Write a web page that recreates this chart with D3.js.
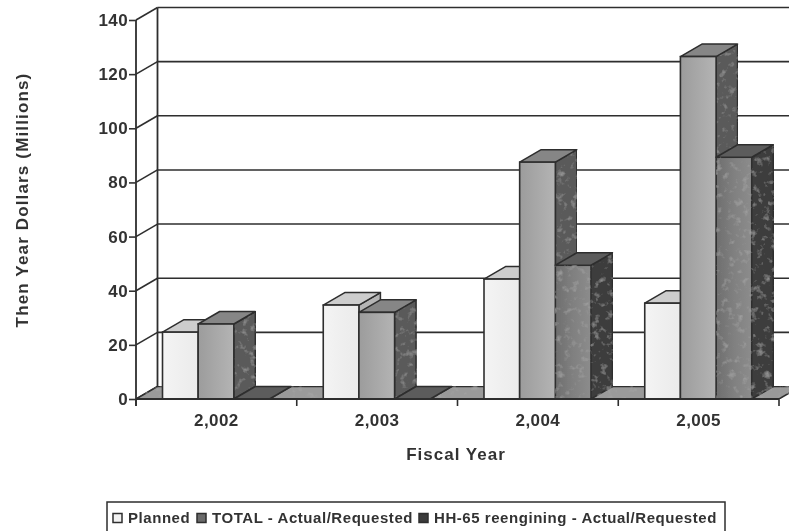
<!DOCTYPE html>
<html>
<head>
<meta charset="utf-8">
<script src="https://d3js.org/d3.v7.min.js"></script>
<style>
    html, body { margin: 0; padding: 0; background: #fff; overflow: hidden; }
    svg { display: block; }
    text { font-family: "Liberation Sans", Arial, sans-serif; font-weight: bold; fill: #333; }
    .axis path { display: none; }
    .axis line { stroke: #333; stroke-width: 1.6; }
</style>
</head>
<body>
<div id="chart"></div>
<script>
// chart values
const years = ["2,002", "2,003", "2,004", "2,005"];
const seriesNames = ["Planned", "TOTAL - Actual/Requested", "HH-65 reengining - Actual/Requested"];
const planned = [24.7, 34.7, 44.3, 35.4];
const total = [27.7, 32, 87.5, 126.5];
const reengining = [0, 0, 49.4, 89.3];
const yTicks = [0, 20, 40, 60, 80, 100, 120, 140];

const seriesValues = [planned, total, reengining];
const seriesFront = ["url(#frontPlanned)", "url(#frontTotal)", "url(#frontHH)"];
const seriesTop = ["#cdcdcd", "#868686", "#5c5c5c"];
const seriesSide = ["#b5b5b5", "#5a5a5a", "#3c3c3c"];

const width = 789, height = 531;
const depth = { x: 21.5, y: -12.5 };
const lineColor = "#2e2e2e";

const x = d3.scaleBand().domain(years).range([136, 779]);
const y = d3.scaleLinear().domain([0, 140]).range([399, 20]);
const xBar = d3.scaleBand().domain(seriesNames).range([26.5, 133.5]);

const svg = d3.select("#chart").append("svg")
    .attr("width", width)
    .attr("height", height);

const defs = svg.append("defs");

// soft look of the scanned page
defs.append("filter").attr("id", "soft")
    .attr("filterUnits", "userSpaceOnUse")
    .attr("x", 0).attr("y", 0).attr("width", width).attr("height", height)
    .append("feGaussianBlur").attr("stdDeviation", 0.6);

// blotchy grain on the dark faces
const mottle = defs.append("filter").attr("id", "mottle")
    .attr("x", 0).attr("y", 0).attr("width", 1).attr("height", 1);
mottle.append("feTurbulence")
    .attr("type", "fractalNoise").attr("baseFrequency", 0.14)
    .attr("numOctaves", 3).attr("seed", 7).attr("result", "noise");
mottle.append("feColorMatrix").attr("in", "noise").attr("type", "matrix")
    .attr("values", "0 0 0 0 0.42  0 0 0 0 0.42  0 0 0 0 0.42  1.8 0 0 0 -1")
    .attr("result", "spots");
mottle.append("feComposite").attr("in", "spots").attr("in2", "SourceAlpha")
    .attr("operator", "in").attr("result", "clipped");
const merge = mottle.append("feMerge");
merge.append("feMergeNode").attr("in", "SourceGraphic");
merge.append("feMergeNode").attr("in", "clipped");

function addGradient(id, stops) {
    const g = defs.append("linearGradient").attr("id", id)
        .attr("x1", 0).attr("x2", 1).attr("y1", 0).attr("y2", 0);
    stops.forEach((c, i) => {
        g.append("stop").attr("offset", i / (stops.length - 1)).attr("stop-color", c);
    });
}
addGradient("frontPlanned", ["#f4f4f4", "#efefef", "#ebebeb"]);
addGradient("frontTotal", ["#9c9c9c", "#a8a8a8", "#b4b4b4"]);
addGradient("frontHH", ["#6e6e6e", "#808080", "#8c8c8c"]);

const page = svg.append("g").attr("filter", "url(#soft)");
const plot = page.append("g");

function poly(parent, pts, fill) {
    return parent.append("polygon")
        .attr("points", pts.map(p => p.join(",")).join(" "))
        .attr("fill", fill)
        .attr("stroke", lineColor)
        .attr("stroke-width", 1.5)
        .attr("stroke-linejoin", "round");
}

// back wall gridlines and left wall diagonals
const y0 = y(0);
yTicks.forEach(t => {
    if (t > 0) {
        plot.append("line")
            .attr("x1", x.range()[0] + depth.x).attr("x2", width)
            .attr("y1", y(t) + depth.y).attr("y2", y(t) + depth.y)
            .attr("stroke", lineColor).attr("stroke-width", 1.6);
    }
    plot.append("line")
        .attr("x1", x.range()[0]).attr("x2", x.range()[0] + depth.x)
        .attr("y1", y(t)).attr("y2", y(t) + depth.y)
        .attr("stroke", lineColor).attr("stroke-width", 1.6);
});

plot.append("line")
    .attr("x1", x.range()[0] + depth.x).attr("x2", x.range()[0] + depth.x)
    .attr("y1", y(140) + depth.y).attr("y2", y0 + depth.y)
    .attr("stroke", lineColor).attr("stroke-width", 1.8);

// floor
poly(plot, [
    [x.range()[0], y0],
    [x.range()[1], y0],
    [x.range()[1] + depth.x, y0 + depth.y],
    [x.range()[0] + depth.x, y0 + depth.y]
], "#9a9a9a").attr("filter", "url(#mottle)");

// bars, left to right so each one covers the side of the previous one
years.forEach((year, c) => {
    seriesNames.forEach((name, s) => {
        const value = seriesValues[s][c];
        const x0 = x(year) + xBar(name);
        const x1 = x0 + xBar.bandwidth();
        const yv = y(value);
        const g = plot.append("g");

        poly(g, [
            [x1, y0],
            [x1 + depth.x, y0 + depth.y],
            [x1 + depth.x, yv + depth.y],
            [x1, yv]
        ], seriesSide[s]).attr("filter", s > 0 ? "url(#mottle)" : null);

        poly(g, [
            [x0, yv],
            [x1, yv],
            [x1 + depth.x, yv + depth.y],
            [x0 + depth.x, yv + depth.y]
        ], seriesTop[s]);

        if (value > 0) {
            g.append("rect")
                .attr("x", x0).attr("y", yv)
                .attr("width", x1 - x0).attr("height", y0 - yv)
                .attr("fill", seriesFront[s])
                .attr("stroke", lineColor)
                .attr("stroke-width", 1.6)
                .attr("filter", s === 2 ? "url(#mottle)" : null);
        }
    });
});

// axes
const yAxis = d3.axisLeft(y).tickValues(yTicks).tickSize(7).tickPadding(1);
page.append("g")
    .attr("class", "axis")
    .attr("transform", `translate(${x.range()[0]},0)`)
    .call(yAxis)
    .call(g => g.selectAll("text").style("font-size", "17px").style("letter-spacing", "0.4px"));

plot.append("line")
    .attr("x1", x.range()[0]).attr("x2", x.range()[0])
    .attr("y1", y(140)).attr("y2", y0 + 7)
    .attr("stroke", lineColor).attr("stroke-width", 1.8);
plot.append("line")
    .attr("x1", x.range()[0]).attr("x2", x.range()[1])
    .attr("y1", y0).attr("y2", y0)
    .attr("stroke", lineColor).attr("stroke-width", 1.8);

// year ticks sit on the band edges, labels in the middle
years.concat(["end"]).forEach((year, i) => {
    const tx = x.range()[0] + i * x.step();
    plot.append("line")
        .attr("x1", tx).attr("x2", tx)
        .attr("y1", y0).attr("y2", y0 + 7)
        .attr("stroke", lineColor).attr("stroke-width", 1.6);
});

const xAxis = d3.axisBottom(x).tickSize(0).tickPadding(15);
page.append("g")
    .attr("class", "axis")
    .attr("transform", `translate(0,${y0})`)
    .call(xAxis)
    .call(g => g.selectAll("text").style("font-size", "17px").style("letter-spacing", "0.4px"));

// axis titles
page.append("text")
    .attr("text-anchor", "middle")
    .attr("transform", "translate(28,200) rotate(-90)")
    .style("font-size", "17px")
    .style("letter-spacing", "1.15px")
    .text("Then Year Dollars (Millions)");

page.append("text")
    .attr("text-anchor", "middle")
    .attr("x", 456).attr("y", 460)
    .style("font-size", "17px")
    .style("letter-spacing", "1px")
    .text("Fiscal Year");

// legend, its bottom edge runs off the page
const legend = page.append("g");
legend.append("rect")
    .attr("x", 107).attr("y", 502)
    .attr("width", 618).attr("height", 40)
    .attr("fill", "#fff")
    .attr("stroke", lineColor)
    .attr("stroke-width", 1.5);

const legendSwatch = ["#f2f2f2", "#6a6a6a", "#3a3a3a"];
const legendSwatchX = [113, 197, 419];
const legendTextX = [128, 212, 434];
seriesNames.forEach((name, i) => {
    legend.append("rect")
        .attr("x", legendSwatchX[i]).attr("y", 513.5)
        .attr("width", 9).attr("height", 9)
        .attr("fill", legendSwatch[i])
        .attr("stroke", lineColor)
        .attr("stroke-width", 1.5);
    legend.append("text")
        .attr("x", legendTextX[i]).attr("y", 523)
        .style("font-size", "15px")
        .style("letter-spacing", "0.55px")
        .text(name);
});
</script>
</body>
</html>
